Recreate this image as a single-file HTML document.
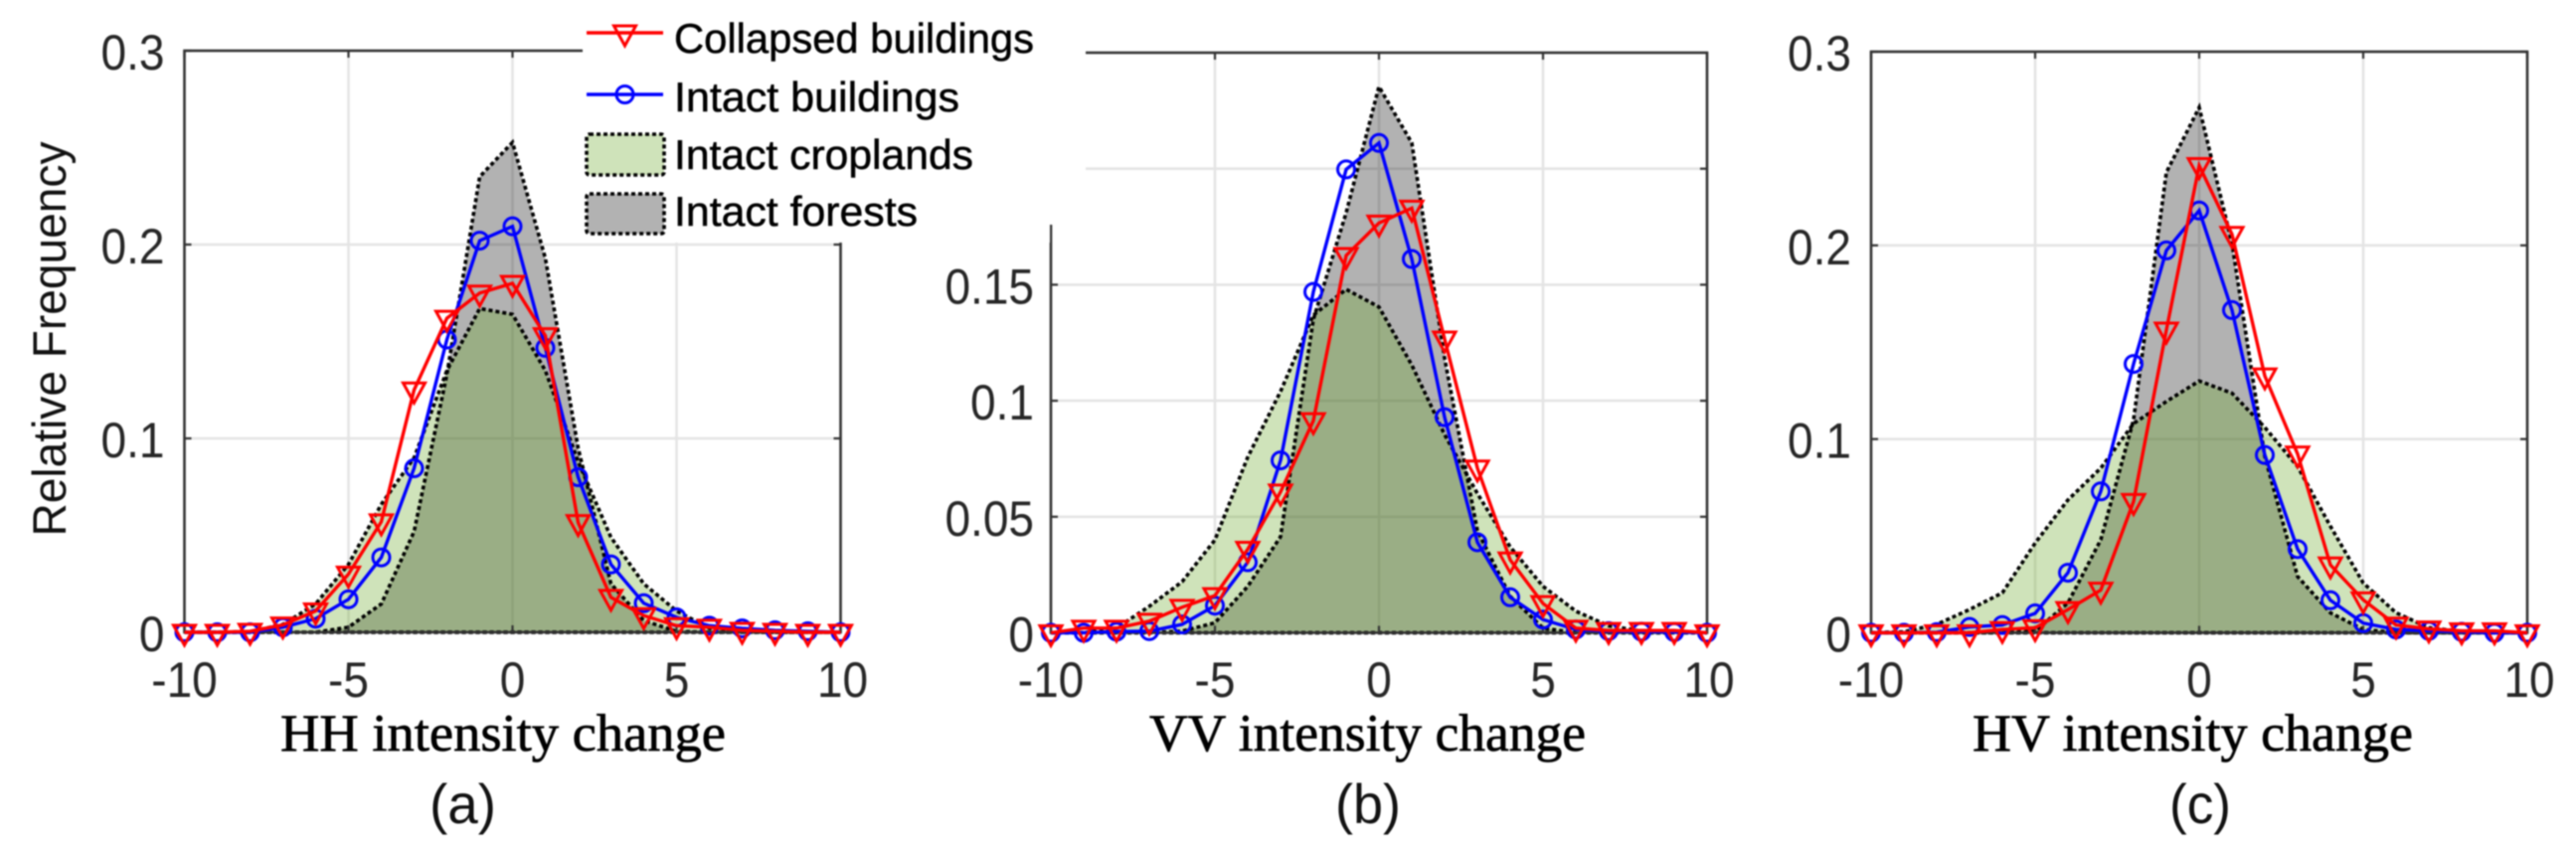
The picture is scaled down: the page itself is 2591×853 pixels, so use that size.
<!DOCTYPE html>
<html lang="en">
<head>
<meta charset="utf-8">
<title>Relative frequency of intensity change</title>
<style>
html,body{margin:0;padding:0;background:#fff;width:2591px;height:853px;overflow:hidden}
svg{display:block;filter:blur(0.7px)}
.tick{font-family:"Liberation Sans",Arial,sans-serif;font-size:50px;fill:#262626}
.ytitle{font-family:"Liberation Sans",Arial,sans-serif;font-size:47px;fill:#111}
.xt{font-family:"Liberation Serif",serif;font-size:53px;fill:#000;stroke:#000;stroke-width:0.7px}
.cap{font-family:"Liberation Sans",Arial,sans-serif;font-size:56px;fill:#111}
.leg{font-family:"Liberation Sans",Arial,sans-serif;font-size:42px;fill:#000;stroke:#000;stroke-width:0.5px}
</style>
</head>
<body>
<svg id="figure" xmlns="http://www.w3.org/2000/svg" width="2591" height="853" viewBox="0 0 2591 853">
  <rect width="2591" height="853" fill="#fff"/>
  <g id="panel-root"></g>

  <rect x="586" y="0" width="470" height="244" fill="#fff"/>
  <rect x="1040" y="0" width="52" height="226" fill="#fff"/>

  <text class="ytitle" transform="translate(66,341) rotate(-90)" text-anchor="middle" textLength="397" lengthAdjust="spacingAndGlyphs">Relative Frequency</text>

  <text class="xt" x="282" y="755" textLength="448" lengthAdjust="spacingAndGlyphs">HH intensity change</text>
  <text class="xt" x="1156" y="755" textLength="439" lengthAdjust="spacingAndGlyphs">VV intensity change</text>
  <text class="xt" x="1984" y="755" textLength="443" lengthAdjust="spacingAndGlyphs">HV intensity change</text>

  <text class="cap" x="432" y="828" textLength="67" lengthAdjust="spacingAndGlyphs">(a)</text>
  <text class="cap" x="1343" y="828" textLength="66" lengthAdjust="spacingAndGlyphs">(b)</text>
  <text class="cap" x="2182" y="828" textLength="62" lengthAdjust="spacingAndGlyphs">(c)</text>

  <g>
    <g>
      <line x1="590" y1="33" x2="667" y2="33" stroke="#ff0000" stroke-width="3.4"/>
      <path d="M617.5 26 H639.5 L628.5 46 Z" fill="none" stroke="#ff0000" stroke-width="3"/>
      <text class="leg" x="678" y="53" textLength="362" lengthAdjust="spacingAndGlyphs">Collapsed buildings</text>
    </g>
    <g>
      <line x1="590" y1="95" x2="667" y2="95" stroke="#0000ff" stroke-width="3.4"/>
      <circle cx="628.5" cy="95" r="8.5" fill="none" stroke="#0000ff" stroke-width="3"/>
      <text class="leg" x="678" y="112" textLength="287" lengthAdjust="spacingAndGlyphs">Intact buildings</text>
    </g>
    <g>
      <rect x="590" y="135" width="78" height="41" rx="3" fill="#cfe3ba" stroke="#000" stroke-width="3.6" stroke-dasharray="4 3"/>
      <text class="leg" x="678" y="170" textLength="301" lengthAdjust="spacingAndGlyphs">Intact croplands</text>
    </g>
    <g>
      <rect x="590" y="195" width="78" height="40" rx="3" fill="#b2b2b2" stroke="#000" stroke-width="3.6" stroke-dasharray="4 3"/>
      <text class="leg" x="678" y="227" textLength="245" lengthAdjust="spacingAndGlyphs">Intact forests</text>
    </g>
  </g>
</svg>

<script>
// ---- shared categories and tick labels ----
const intensityBins = [-10,-9,-8,-7,-6,-5,-4,-3,-2,-1,0,1,2,3,4,5,6,7,8,9,10];
const xTickValues = [-10,-5,0,5,10];
const hhYTicks = [0,0.1,0.2,0.3];
const vvYTicks = [0,0.05,0.1,0.15,0.2];
const hvYTicks = [0,0.1,0.2,0.3];
const hhYTickLabels = ["0","0.1","0.2","0.3"];
const vvYTickLabels = ["0","0.05","0.1","0.15",""];
const hvYTickLabels = ["0","0.1","0.2","0.3"];

// ---- HH panel values ----
const hhCollapsed = [0,0,0.0005,0.0038,0.011,0.03,0.057,0.125,0.162,0.175,0.18,0.153,0.0566,0.018,0.0086,0.0034,0.0026,0.001,0.0005,0,0];
const hhIntact    = [0,0,0,0.0026,0.007,0.017,0.0386,0.0846,0.151,0.202,0.2094,0.1467,0.08,0.035,0.015,0.0077,0.0034,0.002,0.001,0.0005,0];
const hhCropland  = [0,0,0.0003,0.004,0.0146,0.035,0.066,0.09,0.135,0.167,0.164,0.135,0.088,0.049,0.025,0.011,0.002,0.0005,0,0,0];
const hhForest    = [0,0,0,0,0,0.0026,0.0146,0.052,0.133,0.235,0.2527,0.193,0.095,0.025,0.006,0.0005,0,0,0,0,0];

// ---- VV panel values ----
const vvCollapsed = [0,0.002,0.002,0.005,0.011,0.016,0.036,0.0607,0.0914,0.1626,0.1766,0.183,0.1266,0.071,0.0314,0.0126,0.002,0.001,0.001,0.001,0];
const vvIntact    = [0,0,0.0005,0.0007,0.0036,0.0117,0.0304,0.0743,0.1469,0.1997,0.2111,0.1611,0.0929,0.039,0.0153,0.0057,0.0014,0.0007,0.0005,0.0003,0];
const vvCropland  = [0,0,0.002,0.0114,0.022,0.04,0.0757,0.104,0.1369,0.148,0.1404,0.1154,0.0854,0.06,0.037,0.02,0.0093,0.003,0.0007,0,0];
const vvForest    = [0,0,0,0,0.0007,0.0043,0.02,0.0414,0.135,0.181,0.2354,0.2111,0.1183,0.044,0.0157,0.002,0,0,0,0,0];

// ---- HV panel values ----
const hvCollapsed = [0,0,0,0,0.0017,0.0026,0.012,0.022,0.0678,0.1563,0.2412,0.2057,0.1326,0.0923,0.035,0.017,0.004,0.002,0.001,0.001,0];
const hvIntact    = [0,0,0.0003,0.003,0.004,0.01,0.031,0.073,0.1388,0.1974,0.218,0.1666,0.0918,0.0432,0.0168,0.005,0.0017,0.001,0.0005,0,0];
const hvCropland  = [0,0.0005,0.0043,0.012,0.0206,0.0463,0.0686,0.085,0.108,0.1194,0.13,0.1237,0.106,0.0858,0.055,0.0257,0.0103,0.0026,0.0007,0,0];
const hvForest    = [0,0,0,0,0,0.0008,0.0154,0.048,0.11,0.2377,0.2712,0.2009,0.091,0.029,0.0103,0.0017,0,0,0,0,0];

// ---- drawing ----
const SVG_NS = "http://www.w3.org/2000/svg";
const panelRoot = document.getElementById("panel-root");

function makeScale(d0, d1, r0, r1) {
  return function (v) { return r0 + (v - d0) / (d1 - d0) * (r1 - r0); };
}

function svgEl(tag, parent) {
  const el = document.createElementNS(SVG_NS, tag);
  parent.appendChild(el);
  return el;
}

function setLine(el, x1, y1, x2, y2, color, width) {
  el.setAttribute("x1", x1);
  el.setAttribute("y1", y1);
  el.setAttribute("x2", x2);
  el.setAttribute("y2", y2);
  el.setAttribute("stroke", color);
  el.setAttribute("stroke-width", width);
}

function condense(textEl) {
  textEl.setAttribute("textLength", textEl.getComputedTextLength() * 0.92);
  textEl.setAttribute("lengthAdjust", "spacingAndGlyphs");
}

function drawPanel(cfg) {
  const x = makeScale(-10, 10, cfg.left, cfg.right);
  const y = makeScale(0, cfg.yMax, cfg.bottom, cfg.top);
  const g = svgEl("g", panelRoot);
  
  

  // grid
  xTickValues.slice(1, -1).forEach(function (t) {
    const l = svgEl("line", g);
    
    
    setLine(l, x(t), cfg.top, x(t), cfg.bottom, "#e4e4e4", 2.6);
  });
  cfg.yTicks.slice(1).forEach(function (t) {
    if (t >= cfg.yMax) return;
    const l = svgEl("line", g);
    
    
    setLine(l, cfg.left, y(t), cfg.right, y(t), "#e4e4e4", 2.6);
  });

  // filled areas
  function area(values, fill, opacity, name) {
    const pts = intensityBins.map(function (b, i) { return x(b) + "," + y(values[i]); });
    pts.push(x(10) + "," + y(0));
    pts.push(x(-10) + "," + y(0));
    const p = svgEl("polygon", g);
    
    
    p.setAttribute("points", pts.join(" "));
    p.setAttribute("fill", fill);
    p.setAttribute("fill-opacity", opacity);
    return pts.join(" ");
  }
  function outline(points, name) {
    const p = svgEl("polygon", g);
    
    
    p.setAttribute("points", points);
    p.setAttribute("fill", "none");
    p.setAttribute("stroke", "#000");
    p.setAttribute("stroke-width", 3.6);
    p.setAttribute("stroke-dasharray", "4 3");
  }
  const forestPts = area(cfg.forest, "#000000", 0.30, "forest-area");
  const cropPts = area(cfg.crop, "#6aa828", 0.32, "cropland-area");
  outline(forestPts, "forest-outline");
  outline(cropPts, "cropland-outline");

  // axes box
  const box = svgEl("rect", g);
  
  
  box.setAttribute("x", cfg.left);
  box.setAttribute("y", cfg.top);
  box.setAttribute("width", cfg.right - cfg.left);
  box.setAttribute("height", cfg.bottom - cfg.top);
  box.setAttribute("fill", "none");
  box.setAttribute("stroke", "#333");
  box.setAttribute("stroke-width", 2.6);

  // x ticks and labels
  xTickValues.forEach(function (t) {
    const a = svgEl("line", g);
    
    
    setLine(a, x(t), cfg.bottom, x(t), cfg.bottom - 7, "#333", 2.2);
    const b = svgEl("line", g);
    
    
    setLine(b, x(t), cfg.top, x(t), cfg.top + 7, "#333", 2.2);
    const lab = svgEl("text", g);
    
    
    lab.setAttribute("class", "tick");
    lab.setAttribute("x", t === 10 ? x(t) + 2 : x(t));
    lab.setAttribute("y", 701);
    lab.setAttribute("text-anchor", "middle");
    lab.textContent = String(t);
    condense(lab);
  });

  // y ticks and labels
  cfg.yTicks.forEach(function (t, i) {
    const a = svgEl("line", g);
    
    
    setLine(a, cfg.left, y(t), cfg.left + 7, y(t), "#333", 2.2);
    const b = svgEl("line", g);
    
    
    setLine(b, cfg.right, y(t), cfg.right - 7, y(t), "#333", 2.2);
    if (cfg.yLabels[i]) {
      const lab = svgEl("text", g);
      
      
      lab.setAttribute("class", "tick");
      lab.setAttribute("x", cfg.left - cfg.labelGap);
      lab.setAttribute("y", y(t) + 19);
      lab.setAttribute("text-anchor", "end");
      lab.textContent = cfg.yLabels[i];
      condense(lab);
    }
  });

  // intact buildings series
  const blue = svgEl("polyline", g);
  
  
  blue.setAttribute("points", intensityBins.map(function (b, i) { return x(b) + "," + y(cfg.intact[i]); }).join(" "));
  blue.setAttribute("fill", "none");
  blue.setAttribute("stroke", "#0000ff");
  blue.setAttribute("stroke-width", 3.4);
  intensityBins.forEach(function (b, i) {
    const c = svgEl("circle", g);
    
    
    c.setAttribute("cx", x(b));
    c.setAttribute("cy", y(cfg.intact[i]));
    c.setAttribute("r", 8.5);
    c.setAttribute("fill", "none");
    c.setAttribute("stroke", "#0000ff");
    c.setAttribute("stroke-width", 3);
  });

  // collapsed buildings series
  const red = svgEl("polyline", g);
  
  
  red.setAttribute("points", intensityBins.map(function (b, i) { return x(b) + "," + y(cfg.collapsed[i]); }).join(" "));
  red.setAttribute("fill", "none");
  red.setAttribute("stroke", "#ff0000");
  red.setAttribute("stroke-width", 3.4);
  intensityBins.forEach(function (b, i) {
    const px = x(b), py = y(cfg.collapsed[i]);
    const t = svgEl("path", g);
    
    
    t.setAttribute("d", "M" + (px - 11) + " " + (py - 7) + " H" + (px + 11) + " L" + px + " " + (py + 13) + " Z");
    t.setAttribute("fill", "none");
    t.setAttribute("stroke", "#ff0000");
    t.setAttribute("stroke-width", 3);
  });
}

drawPanel({ id: "hh", left: 185.5, right: 845.5, top: 51, bottom: 636, yMax: 0.3, labelGap: 20,
  yTicks: hhYTicks, yLabels: hhYTickLabels,
  collapsed: hhCollapsed, intact: hhIntact, crop: hhCropland, forest: hhForest });
drawPanel({ id: "vv", left: 1057, right: 1717, top: 53, bottom: 636.5, yMax: 0.25, labelGap: 17,
  yTicks: vvYTicks, yLabels: vvYTickLabels,
  collapsed: vvCollapsed, intact: vvIntact, crop: vvCropland, forest: vvForest });
drawPanel({ id: "hv", left: 1882, right: 2542, top: 52, bottom: 636.5, yMax: 0.3, labelGap: 20,
  yTicks: hvYTicks, yLabels: hvYTickLabels,
  collapsed: hvCollapsed, intact: hvIntact, crop: hvCropland, forest: hvForest });
</script>
</body>
</html>
